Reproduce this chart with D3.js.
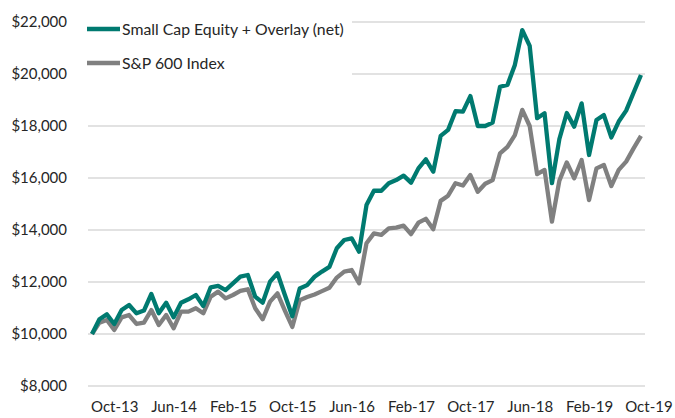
<!DOCTYPE html>
<html>
<head>
<meta charset="utf-8">
<script src="https://cdn.jsdelivr.net/npm/d3@7"></script>
<style>
  body { margin: 0; background: #fff; }
  svg text { font-family: Lato, "Liberation Sans", sans-serif; fill: #262626; }
</style>
</head>
<body>
<svg id="chart" width="675" height="418"></svg>
<script>
// month-end values, Jul-13 .. Sep-19
const smallCap = [10000, 10565, 10755, 10385, 10920, 11115, 10795, 10900, 11540, 10795,
  11205, 10640, 11205, 11335, 11500, 11075, 11795, 11850, 11690, 11950,
  12205, 12270, 11435, 11205, 12015, 12335, 11500, 10680, 11750, 11880,
  12200, 12400, 12580, 13300, 13615, 13680, 13165, 14960, 15510, 15510,
  15800, 15920, 16090, 15820, 16370, 16720, 16240, 17620, 17850, 18570,
  18550, 19150, 18000, 18000, 18130, 19510, 19580, 20350, 21690, 21080,
  18300, 18490, 15800, 17500, 18500, 17975, 18870, 16885, 18230, 18420,
  17560, 18170, 18590, 19280, 19960];
const sp600 = [10000, 10435, 10540, 10155, 10640, 10730, 10385, 10435, 10920, 10345,
  10730, 10220, 10860, 10860, 10990, 10795, 11435, 11630, 11370, 11500,
  11655, 11720, 10990, 10565, 11245, 11565, 10900, 10270, 11300, 11420,
  11520, 11650, 11780, 12170, 12400, 12460, 11950, 13490, 13870, 13810,
  14060, 14090, 14170, 13840, 14280, 14430, 14030, 15120, 15320, 15800,
  15710, 16115, 15470, 15780, 15920, 16950, 17200, 17650, 18620, 18000,
  16150, 16310, 14320, 15900, 16600, 15990, 16690, 15150, 16370, 16500,
  15690, 16310, 16630, 17140, 17620];
const seriesNames = ["Small Cap Equity + Overlay (net)", "S&P 600 Index"];
const yTicks = [8000, 10000, 12000, 14000, 16000, 18000, 20000, 22000];
const xTickLabels = ["Oct-13", "Jun-14", "Feb-15", "Oct-15", "Jun-16", "Feb-17", "Oct-17", "Jun-18", "Feb-19", "Oct-19"];

const fmtMonth = d3.timeFormat("%b-%y");
// one slot per month, plus Oct-19 for the last tick label
const months = d3.timeMonths(new Date(2013, 6, 1), new Date(2019, 10, 1)).map(fmtMonth);

const svg = d3.select("#chart");
const colors = ["#007a70", "#808080"];

const x = d3.scalePoint().domain(months).range([92, 648.4]);
const y = d3.scaleLinear().domain([8000, 22000]).range([386, 22]);

// gridlines
svg.append("g")
  .selectAll("line")
  .data(yTicks)
  .join("line")
  .attr("x1", 88).attr("x2", 645)
  .attr("y1", d => y(d)).attr("y2", d => y(d))
  .attr("stroke", "#d9d9d9")
  .attr("stroke-width", 1.5);

// y axis labels
const yAxis = svg.append("g")
  .attr("transform", "translate(67,0)")
  .call(d3.axisLeft(y).tickValues(yTicks).tickSize(0).tickPadding(0)
    .tickFormat(d => "$" + d3.format(",")(d)));
yAxis.select(".domain").remove();
yAxis.selectAll("text").style("font-size", "15px");

// x axis labels
const xAxis = svg.append("g")
  .attr("transform", "translate(0,401)")
  .call(d3.axisBottom(x).tickValues(xTickLabels).tickSize(0).tickPadding(0));
xAxis.select(".domain").remove();
xAxis.selectAll("text").style("font-size", "15px");

const line = d3.line()
  .x((d, i) => x(months[i]))
  .y(d => y(d));

[sp600, smallCap].forEach((vals, k) => {
  svg.append("path")
    .datum(vals)
    .attr("fill", "none")
    .attr("stroke", k === 0 ? colors[1] : colors[0])
    .attr("stroke-width", 4.3)
    .attr("stroke-linejoin", "round")
    .attr("d", line);
});

// legend (covers the gridlines behind it)
const legend = svg.append("g");
legend.append("rect")
  .attr("x", 85).attr("y", 12).attr("width", 267).attr("height", 70)
  .attr("fill", "#fff");
seriesNames.forEach((name, i) => {
  const ly = 29 + i * 34;
  legend.append("line")
    .attr("x1", 87).attr("x2", 120)
    .attr("y1", ly).attr("y2", ly)
    .attr("stroke", colors[i])
    .attr("stroke-width", 4.3);
  legend.append("text")
    .attr("x", 122).attr("y", ly + 5.5)
    .style("font-size", "15.8px")
    .text(name);
});
</script>
</body>
</html>
